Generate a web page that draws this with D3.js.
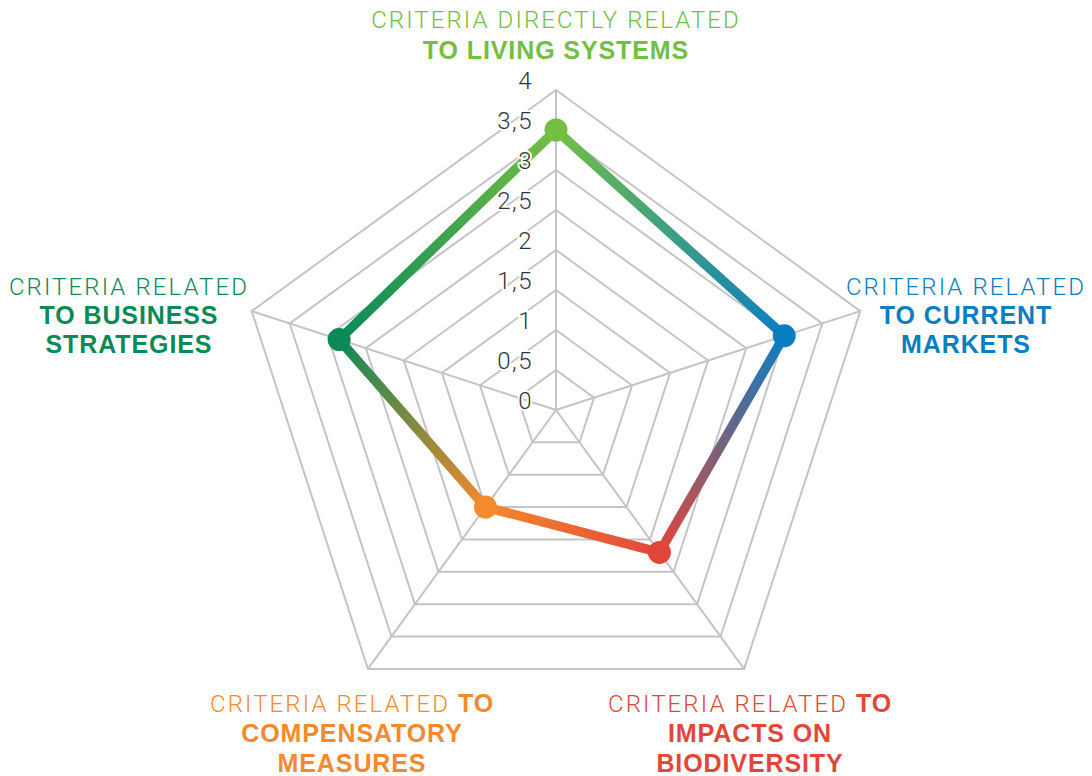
<!DOCTYPE html>
<html>
<head>
<meta charset="utf-8">
<script src="https://cdn.jsdelivr.net/npm/d3@7"></script>
<style>
  html, body { margin: 0; padding: 0; background: #fff; }
  svg { display: block; }
</style>
</head>
<body>
<div id="mainDiv"></div>
<script>
'use strict';

// dados do gráfico
var categoryLight = ['CRITERIA DIRECTLY RELATED', 'CRITERIA RELATED', 'CRITERIA RELATED', 'CRITERIA RELATED', 'CRITERIA RELATED'];
var categoryBold = [
    ['TO LIVING SYSTEMS'],
    ['TO CURRENT', 'MARKETS'],
    ['TO', 'IMPACTS ON', 'BIODIVERSITY'],
    ['TO', 'COMPENSATORY', 'MEASURES'],
    ['TO BUSINESS', 'STRATEGIES']
];
var values = [3.5, 3, 2.2, 1.5, 2.85];
var tickValues = [0, 0.5, 1, 1.5, 2, 2.5, 3, 3.5, 4];
var tickLabels = ['0', '0,5', '1', '1,5', '2', '2,5', '3', '3,5', '4'];
var categoryColors = ['#74be44', '#0a7ec3', '#e2463a', '#f5892d', '#0b8a57'];

var radar = {};

radar.w = 1092;
radar.h = 776;
radar.cx = 556;
radar.cy = 410;
radar.radius = 320;
radar.maxValue = 4;

radar.gridColor = '#c4c4c6';
radar.lineWidth = 9.5;
radar.pointRadius = 11.5;

radar.fontLight = '"Roboto", "Liberation Sans", sans-serif';
radar.fontBold = '"Liberation Sans", "Roboto", sans-serif';

// posição dos rótulos de cada eixo (x central, baseline da 1a linha)
radar.labelPos = [
    {x: 556, y: 28, gap: 31},
    {x: 966, y: 295, gap: 29},
    {x: 750, y: 712, gap: 30},
    {x: 352, y: 712, gap: 30},
    {x: 129, y: 295, gap: 29}
];
radar.inlineFirst = [false, false, true, true, false];

radar.rScale = d3.scaleLinear().domain([0, radar.maxValue]).range([0, radar.radius]);

radar.angle = function(i)
{
    return -Math.PI / 2 + i * 2 * Math.PI / categoryLight.length;
}

radar.point = function(i, v)
{
    var a = radar.angle(i);
    return [radar.cx + radar.rScale(v) * Math.cos(a), radar.cy + radar.rScale(v) * Math.sin(a)];
}

radar.appendSvg = function(div)
{
    return d3.select(div).append('svg')
        .attr('width', radar.w)
        .attr('height', radar.h);
}

radar.appendGrid = function(svg)
{
    var g = svg.append('g').attr('class', 'grid');
    var n = categoryLight.length;

    tickValues.slice(1).forEach(function(t) {
        var pts = d3.range(n).map(function(i) { return radar.point(i, t); });
        g.append('path')
            .attr('d', d3.line().curve(d3.curveLinearClosed)(pts))
            .attr('fill', 'none')
            .attr('stroke', radar.gridColor)
            .attr('stroke-width', 2);
    });

    d3.range(n).forEach(function(i) {
        var p = radar.point(i, radar.maxValue);
        g.append('line')
            .attr('x1', radar.cx).attr('y1', radar.cy)
            .attr('x2', p[0]).attr('y2', p[1])
            .attr('stroke', radar.gridColor)
            .attr('stroke-width', 2);
    });
}

radar.appendSeries = function(svg)
{
    var n = values.length;
    var defs = svg.append('defs');
    var g = svg.append('g').attr('class', 'series');

    for (var i = 0; i < n; i++)
    {
        var j = (i + 1) % n;
        var p0 = radar.point(i, values[i]);
        var p1 = radar.point(j, values[j]);

        var grad = defs.append('linearGradient')
            .attr('id', 'seg' + i)
            .attr('gradientUnits', 'userSpaceOnUse')
            .attr('x1', p0[0]).attr('y1', p0[1])
            .attr('x2', p1[0]).attr('y2', p1[1]);
        grad.append('stop').attr('offset', '0%').attr('stop-color', categoryColors[i]);
        grad.append('stop').attr('offset', '100%').attr('stop-color', categoryColors[j]);

        g.append('line')
            .attr('x1', p0[0]).attr('y1', p0[1])
            .attr('x2', p1[0]).attr('y2', p1[1])
            .attr('stroke', 'url(#seg' + i + ')')
            .attr('stroke-width', radar.lineWidth);
    }

    g.selectAll('circle')
        .data(values)
        .enter()
        .append('circle')
        .attr('cx', function(d, i) { return radar.point(i, d)[0]; })
        .attr('cy', function(d, i) { return radar.point(i, d)[1]; })
        .attr('r', radar.pointRadius)
        .attr('fill', function(d, i) { return categoryColors[i]; });
}

radar.appendTicks = function(svg)
{
    svg.append('g')
        .attr('class', 'ticks')
        .selectAll('text')
        .data(tickValues)
        .enter()
        .append('text')
        .attr('x', radar.cx - 23)
        .attr('y', function(d) { return radar.cy - radar.rScale(d) - 1; })
        .attr('text-anchor', 'end')
        .attr('font-family', radar.fontLight)
        .attr('font-weight', 300)
        .attr('font-size', 24)
        .attr('letter-spacing', 1.5)
        .attr('fill', '#333')
        .attr('stroke', '#fff')
        .attr('stroke-width', 4)
        .attr('paint-order', 'stroke')
        .text(function(d, i) { return tickLabels[i]; });
}

radar.appendLabels = function(svg)
{
    var g = svg.append('g').attr('class', 'labels');

    categoryLight.forEach(function(light, i) {
        var pos = radar.labelPos[i];
        var bold = categoryBold[i].slice();
        var t = g.append('text')
            .attr('text-anchor', 'middle')
            .attr('font-size', 24)
            .attr('fill', categoryColors[i]);

        var first = t.append('tspan')
            .attr('x', pos.x)
            .attr('y', pos.y);
        first.append('tspan')
            .attr('font-family', radar.fontLight)
            .attr('font-weight', 300)
            .attr('letter-spacing', 2.1)
            .text(light);

        if (radar.inlineFirst[i])
        {
            first.append('tspan')
                .attr('font-family', radar.fontBold)
                .attr('font-weight', 700)
                .attr('font-size', 25)
                .attr('letter-spacing', 0.9)
                .text(' ' + bold.shift());
        }

        bold.forEach(function(line, k) {
            t.append('tspan')
                .attr('x', pos.x)
                .attr('y', pos.y + (k + 1) * pos.gap)
                .attr('font-family', radar.fontBold)
                .attr('font-weight', 700)
                .attr('font-size', 25)
                .attr('letter-spacing', 0.9)
                .text(line);
        });
    });
}

radar.run = function()
{
    var svg = radar.appendSvg('#mainDiv');
    radar.appendGrid(svg);
    radar.appendSeries(svg);
    radar.appendTicks(svg);
    radar.appendLabels(svg);
}

window.onload = radar.run;
</script>
</body>
</html>
